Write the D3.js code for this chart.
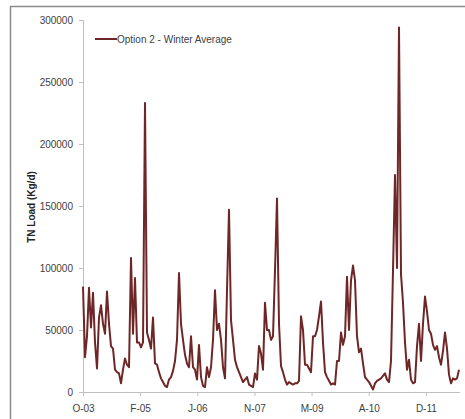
<!DOCTYPE html>
<html>
<head>
<meta charset="utf-8">
<script src="https://cdn.jsdelivr.net/npm/d3@7"></script>
<style>
  body { margin: 0; background: #fff; }
  svg { display: block; font-family: "Liberation Sans", Arial, sans-serif; }
</style>
</head>
<body>
<div id="chart"></div>
<script>
// TN load (thousand Kg/d), one sample every 17.5 days from Oct 2003
const seriesName = "Option 2 - Winter Average"
const loadK = [
  85, 28, 45, 84, 52, 80, 40, 19, 60, 70,
  55, 47, 81, 55, 37, 35, 18, 16, 15, 7,
  18, 27, 22, 20, 108, 47, 92, 40, 40, 36,
  40, 233, 48, 42, 35, 60, 23, 22, 16, 11,
  8, 5, 4, 10, 12, 17, 25, 42, 96, 55,
  42, 30, 23, 20, 45, 20, 18, 10, 38, 12,
  5, 4, 20, 12, 20, 42, 82, 50, 55, 42,
  20, 11, 82, 147, 58, 42, 26, 20, 16, 12,
  8, 10, 12, 6, 5, 4, 15, 10, 37, 31,
  18, 72, 50, 50, 42, 45, 98, 156, 55, 21,
  16, 10, 6, 8, 7, 6, 7, 7, 9, 61,
  50, 22, 22, 19, 16, 45, 45, 50, 61, 73,
  40, 16, 12, 9, 6, 7, 6, 25, 25, 48,
  38, 45, 93, 50, 90, 102, 90, 45, 32, 35,
  23, 12, 10, 8, 5, 2, 7, 9, 10, 11,
  13, 15, 10, 8, 25, 98, 175, 100, 294, 95,
  72, 40, 18, 26, 10, 7, 8, 37, 55, 25,
  55, 77, 65, 50, 47, 38, 34, 37, 28, 22,
  33, 48, 35, 14, 7, 11, 10, 11, 18
]
const xTickLabels = ["O-03", "F-05", "J-06", "N-07", "M-09", "A-10", "D-11"]
const yTicks = [0, 50000, 100000, 150000, 200000, 250000, 300000]

const w = 465
const h = 419
const padL = 83, padR = 459, padT = 20, padB = 392

const start = new Date(2003, 9, 1)
const dayMs = 86400000
const stepDays = 17.5
const data = loadK.map((v, i) => ({ date: new Date(+start + i * stepDays * dayMs), value: v * 1000 }))
const tickDates = xTickLabels.map((d, i) => new Date(+start + i * 500 * dayMs))

const xScale = d3.scaleTime()
                 .domain([start, data[data.length - 1].date])
                 .range([padL, padR])
const yScale = d3.scaleLinear()
                 .domain([0, 300000])
                 .range([padB, padT])

const svg = d3.select("#chart")
              .append("svg")
              .attr("width", w)
              .attr("height", h)

// chart border (only left/top show in the frame)
svg.append("rect")
   .attr("x", 10.5).attr("y", 6.5)
   .attr("width", 470).attr("height", 430)
   .attr("fill", "none")
   .attr("stroke", "#8c8c8c")
   .attr("stroke-width", 1.5)

const xAxis = d3.axisBottom(xScale)
                .tickValues(tickDates)
                .tickFormat((d, i) => xTickLabels[i])
                .tickSizeOuter(0)
                .tickSize(4)
const yAxis = d3.axisLeft(yScale)
                .tickValues(yTicks)
                .tickFormat(d3.format("d"))
                .tickSizeOuter(0)
                .tickSize(4)

const gx = svg.append("g")
              .attr("transform", "translate(0," + padB + ")")
              .call(xAxis)
gx.select(".domain").attr("d", "M" + padL + ",0.5H" + (padR + 1))
const gy = svg.append("g")
              .attr("transform", "translate(" + padL + ",0)")
              .call(yAxis)

svg.selectAll(".domain, .tick line").attr("stroke", "#bfbfbf")
svg.selectAll(".tick text")
   .attr("fill", "#404040")
   .style("font-size", "10px")
   .style("font-family", "'Liberation Sans', Arial, sans-serif")
gx.selectAll(".tick text").attr("dy", "1.25em")
gy.selectAll(".tick text").attr("x", -10)

// y title
svg.append("text")
   .attr("transform", "translate(35,207) rotate(-90)")
   .attr("text-anchor", "middle")
   .attr("font-weight", "bold")
   .attr("font-size", "10px")
   .attr("fill", "#262626")
   .text("TN Load (Kg/d)")

const line = d3.line()
               .x(d => xScale(d.date))
               .y(d => yScale(d.value))

svg.append("path")
   .datum(data)
   .attr("fill", "none")
   .attr("stroke", "#6e2626")
   .attr("stroke-width", 2)
   .attr("stroke-linejoin", "round")
   .attr("d", line)

// legend
const lg = svg.append("g").attr("transform", "translate(95,39)")
lg.append("line")
  .attr("x1", 0).attr("x2", 22)
  .attr("stroke", "#6e2626")
  .attr("stroke-width", 2)
lg.append("text")
  .attr("x", 22).attr("dy", "0.35em")
  .attr("font-size", "10px")
  .attr("fill", "#404040")
  .text(seriesName)
</script>
</body>
</html>
